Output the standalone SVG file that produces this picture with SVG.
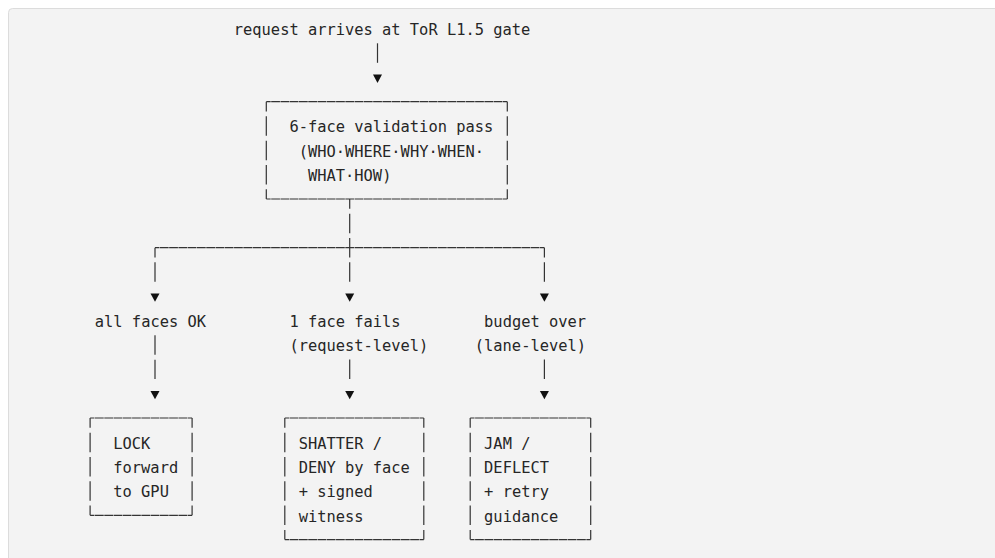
<svg xmlns="http://www.w3.org/2000/svg" xmlns:xlink="http://www.w3.org/1999/xlink" width="995" height="558" viewBox="0 0 995 558">
  <style>
    .panel { fill: #f3f3f3; stroke: #dcdcdc; stroke-width: 1; }
    .t { font-family: "DejaVu Sans Mono", "Liberation Mono", monospace; font-size: 15.4px; fill: #262626; }
    /* horizontal box rules: one segment per character cell */
    .h { fill: none; stroke: #333; stroke-width: 1.2; stroke-dasharray: 8.77 0.5; stroke-dashoffset: 4.385; }
    /* vertical rules: one stroke per text row, small gap between rows */
    .v { fill: none; stroke: #333; stroke-width: 1.2; stroke-dasharray: 19.5 4.83; }
    .vc { stroke-dashoffset: 9.7; }
    .arrow { fill: #111; }
  </style>
  <defs>
    <path id="tri" d="M-4.5,-8.3 H4.5 L0,0 Z"/>
  </defs>

  <rect width="995" height="558" fill="#ffffff"/>
  <rect class="panel" x="8.5" y="8.5" width="1000" height="600" rx="4"/>

  <!-- connectors -->
  <g id="connectors">
    <!-- entry to validation -->
    <path class="v" d="M377.5,43.3 V62.8"/>
    <use class="arrow" xlink:href="#tri" x="377.5" y="82.9"/>
    <!-- fan-out below validation box -->
    <path class="v vc" d="M349.7,199 V281.8"/>
    <path class="h" d="M155,247.7 H544.4"/>
    <path class="v vc" d="M155,247.7 V281.8"/>
    <path class="v vc" d="M544.4,247.7 V281.8"/>
    <use class="arrow" xlink:href="#tri" x="155" y="301.8"/>
    <use class="arrow" xlink:href="#tri" x="349.7" y="301.8"/>
    <use class="arrow" xlink:href="#tri" x="544.4" y="301.8"/>
    <!-- outcome to action -->
    <path class="v" d="M155,335.3 V379.1"/>
    <path class="v" d="M349.7,359.6 V379.1"/>
    <path class="v" d="M544.4,359.6 V379.1"/>
    <use class="arrow" xlink:href="#tri" x="155" y="399.2"/>
    <use class="arrow" xlink:href="#tri" x="349.7" y="399.2"/>
    <use class="arrow" xlink:href="#tri" x="544.4" y="399.2"/>
  </g>

  <g id="entry">
    <text class="t" x="233.8" y="35">request arrives at ToR L1.5 gate</text>
  </g>

  <g id="validation">
    <path class="h" d="M266.3,101.7 H507.3 M266.3,199 H507.3"/>
    <path class="v vc" d="M266.3,101.7 V199 M507.3,101.7 V199"/>
    <text class="t" x="289.4" y="131.5">6-face validation pass</text>
    <text class="t" x="298.7" y="156.6">(WHO·WHERE·WHY·WHEN·</text>
    <text class="t" x="308" y="181">WHAT·HOW)</text>
  </g>

  <g id="all-ok">
    <text class="t" x="94.8" y="327">all faces OK</text>
  </g>

  <g id="one-fails">
    <text class="t" x="289.4" y="327">1 face fails</text>
    <text class="t" x="289.4" y="351.3">(request-level)</text>
  </g>

  <g id="over-budget">
    <text class="t" x="484.1" y="327">budget over</text>
    <text class="t" x="474.8" y="351.3">(lane-level)</text>
  </g>

  <g id="lock">
    <path class="h" d="M90.1,418 H192.1 M90.1,515.3 H192.1"/>
    <path class="v vc" d="M90.1,418 V515.3 M192.1,418 V515.3"/>
    <text class="t" x="113.3" y="448.6">LOCK</text>
    <text class="t" x="113.3" y="472.9">forward</text>
    <text class="t" x="113.3" y="497.3">to GPU</text>
  </g>

  <g id="shatter">
    <path class="h" d="M284.8,418 H423.8 M284.8,539.6 H423.8"/>
    <path class="v vc" d="M284.8,418 V539.6 M423.8,418 V539.6"/>
    <text class="t" x="298.7" y="448.6">SHATTER /</text>
    <text class="t" x="298.7" y="472.9">DENY by face</text>
    <text class="t" x="298.7" y="497.3">+ signed</text>
    <text class="t" x="298.7" y="521.6">witness</text>
  </g>

  <g id="jam">
    <path class="h" d="M470.2,418 H590.7 M470.2,539.6 H590.7"/>
    <path class="v vc" d="M470.2,418 V539.6 M590.7,418 V539.6"/>
    <text class="t" x="484.1" y="448.6">JAM /</text>
    <text class="t" x="484.1" y="472.9">DEFLECT</text>
    <text class="t" x="484.1" y="497.3">+ retry</text>
    <text class="t" x="484.1" y="521.6">guidance</text>
  </g>
</svg>
